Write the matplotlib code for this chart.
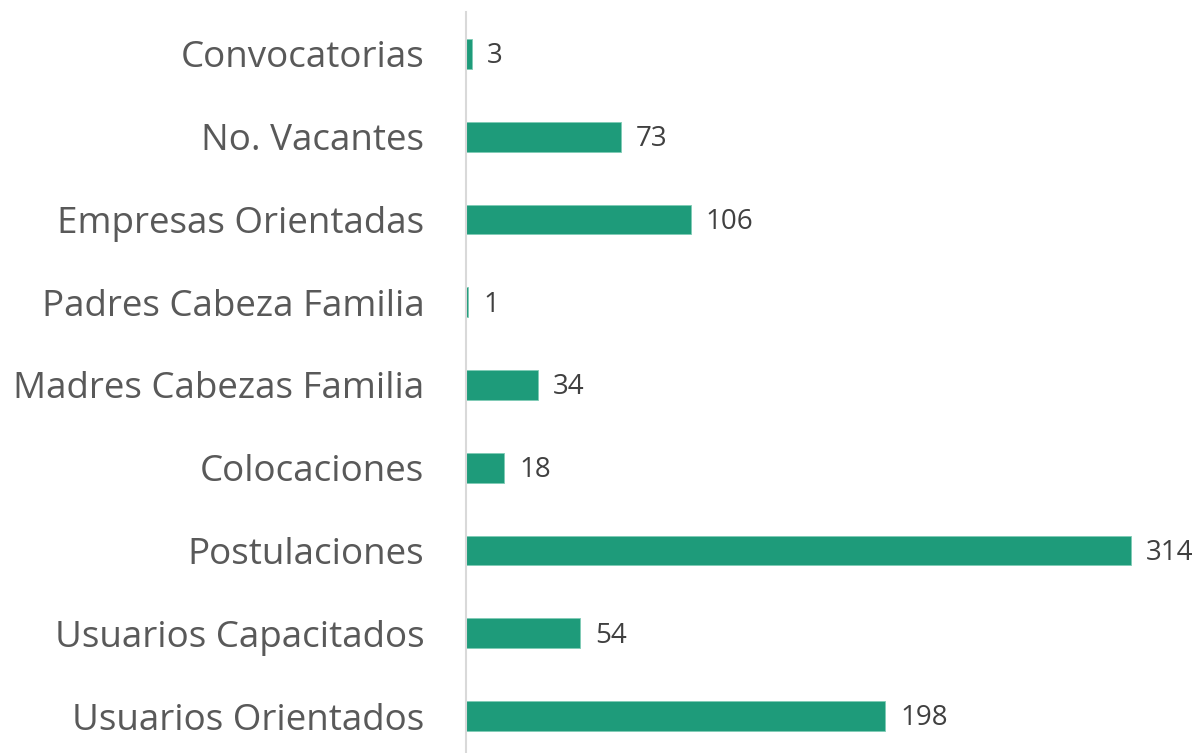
import matplotlib.pyplot as plt

# Data (bottom to top)
categorias = ["Usuarios Orientados", "Usuarios Capacitados", "Postulaciones",
              "Colocaciones", "Madres Cabezas Familia", "Padres Cabeza Familia",
              "Empresas Orientadas", "No. Vacantes", "Convocatorias"]
valores = [198, 54, 314, 18, 34, 1, 106, 73, 3]

color_barra = "#1E9B7A"
gris_texto = "#595959"

plt.rcParams['font.family'] = ['Open Sans', 'DejaVu Sans']

fig = plt.figure(figsize=(11.99, 7.53), dpi=100)
ax = fig.add_axes([466 / 1199, 0, (1199 - 466) / 1199, 741 / 753])

pos = list(range(len(categorias)))
ax.barh(pos, valores, height=0.36, color=color_barra, edgecolor="#7FCBB5", linewidth=0.6)

for y, v in zip(pos, valores):
    ax.text(v + 7, y - 0.03, str(v), va="center", ha="left", fontsize=20, color="#404040")

ax.set_xlim(0, 346)
ax.set_ylim(-0.447, 8.507)
ax.set_yticks(pos)
ax.set_yticklabels(categorias, fontsize=26.5, color=gris_texto)
ax.tick_params(axis="y", length=0, pad=30)
ax.set_xticks([])

for s in ["top", "right", "bottom"]:
    ax.spines[s].set_visible(False)
ax.spines["left"].set_color("#D9D9D9")
ax.spines["left"].set_linewidth(1.5)

fig.savefig("out.png", dpi=100)
